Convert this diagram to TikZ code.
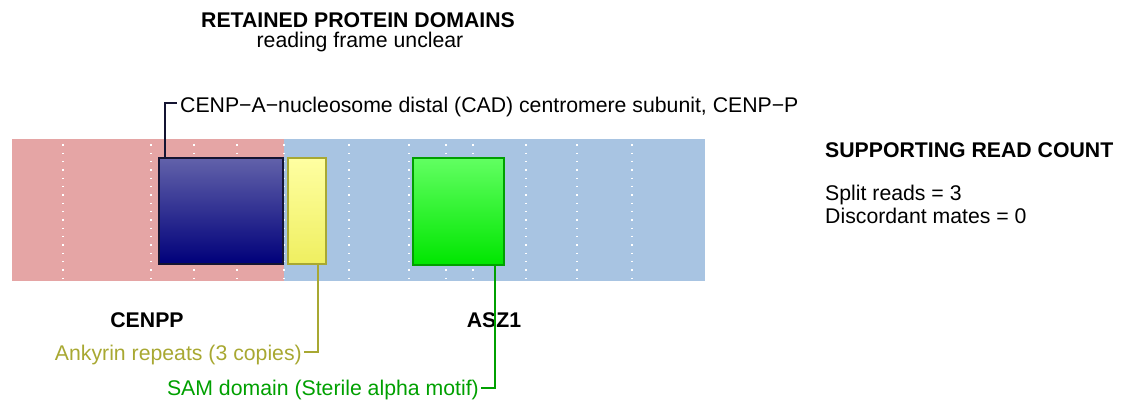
\documentclass[tikz,border=0pt]{standalone}
\usepackage{fontspec}
\setmainfont{Liberation Sans}
\usetikzlibrary{calc}
\definecolor{bandred}{HTML}{E5A5A5}
\definecolor{bandblue}{HTML}{A8C4E2}
\definecolor{navytop}{HTML}{6262AA}
\definecolor{navybot}{HTML}{00007A}
\definecolor{navyline}{HTML}{141432}
\definecolor{yeltop}{HTML}{FFFFA2}
\definecolor{yelbot}{HTML}{EFEF60}
\definecolor{olive}{HTML}{A8A832}
\definecolor{grntop}{HTML}{62FF62}
\definecolor{grnbot}{HTML}{00E600}
\definecolor{grnline}{HTML}{00A000}
\begin{document}
\begin{tikzpicture}[x=1pt,y=-1pt,
  txt/.style={inner sep=0pt, font=\fontsize{21.25}{23}\selectfont},
  boldtxt/.style={inner sep=0pt, font=\fontsize{21.25}{23}\selectfont\bfseries},
  gridline/.style={white, line width=1.5pt, dash pattern=on 1.5pt off 6.83pt},
  domainbox/.style={rectangle, inner sep=0pt, line width=1.5pt, anchor=north west},
  conn/.style={line width=1.5pt}
]
\useasboundingbox (0,0) rectangle (1134,402);
% background bands
\fill[bandred] (12,139) rectangle (284,281);
\fill[bandblue] (284,139) rectangle (705,281);
% dotted grid
\foreach \gx in {63,151,194,237,284,349,409,446,473,526,577,632}
  \draw[gridline] (\gx,144.25) -- (\gx,281);
% domains
\node[domainbox, draw=navyline, top color=navytop, bottom color=navybot,
      minimum width=124pt, minimum height=106pt] (dom1) at (158,157) {};
\node[domainbox, draw=olive, top color=yeltop, bottom color=yelbot,
      minimum width=38pt, minimum height=106pt] (dom2) at (287,157) {};
\node[domainbox, draw=grnline, top color=grntop, bottom color=grnbot,
      minimum width=91pt, minimum height=107pt] (dom3) at (412,157) {};
% texts
\node[boldtxt, anchor=base] (title) at (358,27) {RETAINED PROTEIN DOMAINS};
\node[txt, anchor=base] (sub) at (360,47) {reading frame unclear};
\node[txt, anchor=base west] (lab1) at (180,112) {CENP−A−nucleosome distal (CAD) centromere subunit, CENP−P};
\node[txt, anchor=base east, text=olive] (lab2) at (302,360) {Ankyrin repeats (3 copies)};
\node[txt, anchor=base east, text=grnline] (lab3) at (479,395) {SAM domain (Sterile alpha motif)};
\node[boldtxt, anchor=base] (gene1) at (147,327) {CENPP};
\node[boldtxt, anchor=base] (gene2) at (494,327) {ASZ1};
\node[boldtxt, anchor=base west] (hdr) at (825,157) {SUPPORTING READ COUNT};
\node[txt, anchor=base west] (split) at (825,200) {Split reads = 3};
\node[txt, anchor=base west] (disc) at (825,223) {Discordant mates = 0};
% connectors
\coordinate (k1) at (177,103);
\coordinate (k2) at (304,352);
\coordinate (k3) at (481,388);
\draw[conn, navyline] ($(dom1.north west)+(7,0)$) |- (k1);
\draw[conn, olive] ($(dom2.south west)+(31,0)$) |- (k2);
\draw[conn, grnline] ($(dom3.south west)+(83,0)$) |- (k3);
\end{tikzpicture}
\end{document}
